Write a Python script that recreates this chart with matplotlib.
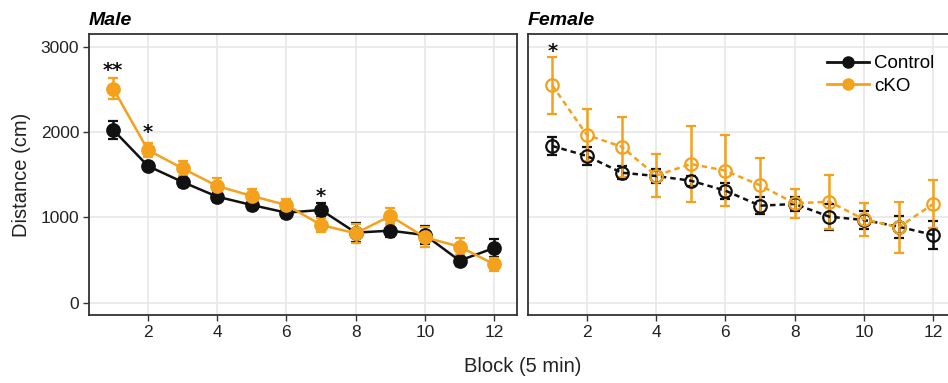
import numpy as np
import matplotlib.pyplot as plt
from matplotlib.lines import Line2D

plt.rcParams['font.family'] = ['Liberation Sans', 'DejaVu Sans']

blocks = np.arange(1, 13)

# male
male_ctrl = [2025, 1603, 1415, 1243, 1145, 1055, 1087, 821, 844, 793, 493, 641]
male_ctrl_err = [110, 50, 60, 60, 60, 60, 85, 110, 80, 100, 60, 100]
male_cko = [2509, 1790, 1575, 1368, 1251, 1145, 911, 813, 1016, 766, 657, 450]
male_cko_err = [120, 86, 90, 98, 86, 70, 86, 110, 98, 117, 98, 78]

# female
fem_ctrl = [1837, 1720, 1524, 1485, 1430, 1313, 1137, 1157, 1008, 969, 891, 794]
fem_ctrl_err = [109, 109, 78, 78, 60, 94, 98, 78, 152, 105, 129, 160]
fem_cko = [2548, 1966, 1829, 1489, 1626, 1548, 1376, 1165, 1184, 977, 884, 1157]
fem_cko_err = [336, 308, 352, 254, 443, 416, 315, 170, 316, 195, 302, 282]

# significance marks (block, y, text)
male_stars = [(1, 2720, '**'), (2, 1990, '*'), (7, 1240, '*')]
fem_stars = [(1, 2950, '*')]

orange = '#F4A11D'
black = '#111111'

fig = plt.figure(figsize=(9.48, 3.83), dpi=100)
ax1 = fig.add_axes([0.0939, 0.1775, 0.4515, 0.7337])
ax2 = fig.add_axes([0.557, 0.1775, 0.4515, 0.7337])

def style(ax, left):
    ax.set_xlim(0.3, 12.66)
    ax.set_ylim(-145, 3150)
    ax.set_xticks([2, 4, 6, 8, 10, 12])
    ax.set_yticks([0, 1000, 2000, 3000])
    ax.grid(True, color='#e6e6e6', lw=1.1)
    ax.set_axisbelow(True)
    for s in ax.spines.values():
        s.set_color('#333333')
        s.set_linewidth(1.3)
    ax.tick_params(axis='both', length=4, width=1, color='#333333',
                   labelsize=12.5, labelcolor='#222222', pad=3)
    if not left:
        ax.tick_params(axis='y', left=False, labelleft=False)

def draw(ax, y0, e0, y1, e1, filled, ls):
    for y, e, c, lab in [(y0, e0, black, 'Control'), (y1, e1, orange, 'cKO')]:
        ax.errorbar(blocks, y, yerr=e, color=c, lw=1.8, ls=ls, capsize=3.5,
                    capthick=1.8, elinewidth=1.8, marker='o', ms=9,
                    mfc=c if filled else 'none', mec=c, mew=1.6, label=lab)

style(ax1, True)
style(ax2, False)
draw(ax1, male_ctrl, male_ctrl_err, male_cko, male_cko_err, True, '-')
draw(ax2, fem_ctrl, fem_ctrl_err, fem_cko, fem_cko_err, False, (0, (2.2, 1.6)))

for x, y, t in male_stars:
    ax1.text(x, y, t, ha='center', va='center', fontsize=14, color=black,
             family='DejaVu Sans', fontweight='bold')
for x, y, t in fem_stars:
    ax2.text(x, y, t, ha='center', va='center', fontsize=14, color=black,
             family='DejaVu Sans', fontweight='bold')

ax1.set_title('Male', loc='left', fontsize=14, fontweight='bold', style='italic', pad=6.5)
ax2.set_title('Female', loc='left', fontsize=14, fontweight='bold', style='italic', pad=6.5)
ax1.set_ylabel('Distance (cm)', fontsize=14.5, color='#222222', labelpad=7)
fig.text(0.551, 0.03, 'Block (5 min)', ha='center', fontsize=14.5, color='#222222')

handles = [Line2D([], [], color=black, marker='o', ms=8, lw=2),
           Line2D([], [], color=orange, marker='o', ms=8, lw=2)]
ax2.legend(handles, ['Control', 'cKO'], loc='upper left', bbox_to_anchor=(0.66, 0.985),
           frameon=False, fontsize=13.5, handlelength=2.2, handletextpad=0.3, labelspacing=0.3)

fig.savefig('out.png', dpi=100)
